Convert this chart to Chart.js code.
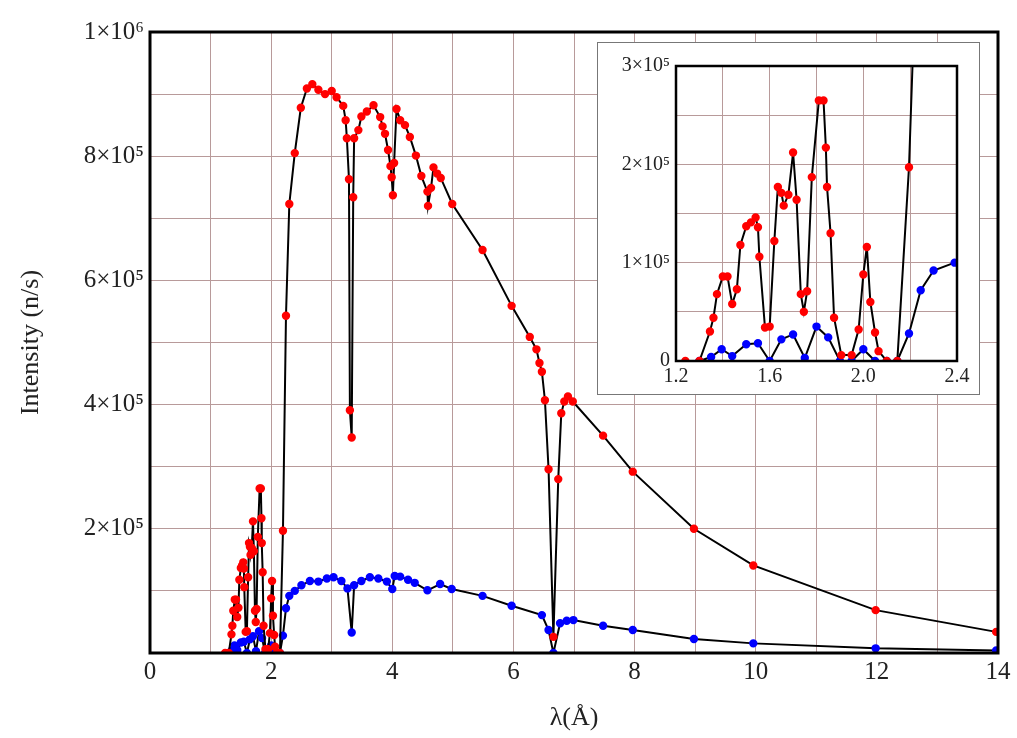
<!DOCTYPE html>
<html><head><meta charset="utf-8">
<script src="https://cdn.jsdelivr.net/npm/chart.js@4.4.0/dist/chart.umd.min.js"></script>
<style>
body{margin:0;background:#fff;}
#wrap{position:relative;width:1017px;height:738px;}
#main{position:absolute;left:0;top:0;}
#insetBox{position:absolute;left:597px;top:42px;width:381px;height:351px;border:1px solid #777;background:#fff;}
#inset{position:absolute;left:0;top:0;}
</style></head><body>
<div id="wrap">
<canvas id="main" width="1017" height="738"></canvas>
<div id="insetBox"><canvas id="inset" width="381" height="351"></canvas></div>
</div>
<script>
const redX=[1.24,1.30,1.345,1.36,1.375,1.40,1.42,1.44,1.46,1.475,1.50,1.52,1.54,1.55,1.556,1.58,1.60,1.62,1.635,1.65,1.66,1.68,1.70,1.715,1.733,1.746,1.76,1.78,1.81,1.83,1.84,1.845,1.86,1.875,1.906,1.95,1.98,2.0,2.015,2.03,2.05,2.065,2.10,2.145,2.195,2.245,2.30,2.39,2.49,2.59,2.68,2.78,2.89,3.0,3.08,3.19,3.23,3.25,3.285,3.30,3.33,3.355,3.37,3.44,3.49,3.58,3.69,3.80,3.84,3.88,3.93,3.97,3.99,4.01,4.03,4.07,4.13,4.21,4.29,4.39,4.48,4.58,4.59,4.64,4.68,4.74,4.80,4.99,5.49,5.97,6.27,6.38,6.43,6.47,6.52,6.58,6.66,6.74,6.79,6.84,6.90,6.98,7.48,7.97,8.98,9.96,11.98,13.97];
const redY=[0,0,30000,44000,68000,86000,86000,58000,73000,118000,137000,141000,146000,136000,106000,34000,35000,122000,177000,171000,158000,169000,212000,164000,68000,50000,71000,187000,265000,265000,217000,177000,130000,44000,6000,6000,32000,88000,116000,60000,29000,10000,0,0,197000,543000,723000,805000,878000,909000,916000,907000,900000,905000,895000,881000,858000,829000,763000,391000,347000,734000,829000,842000,864000,872000,882000,863000,848000,836000,810000,784000,766000,737000,789000,876000,858000,850000,831000,801000,768000,743000,720000,749000,782000,772000,765000,723000,649000,559000,509000,489000,467000,453000,407000,296000,26000,280000,386000,405000,413000,405000,350000,292000,200000,141000,69000,34000];
const blueX=[1.30,1.35,1.395,1.44,1.50,1.55,1.60,1.65,1.70,1.75,1.80,1.85,1.90,1.95,2.0,2.05,2.10,2.145,2.195,2.245,2.30,2.39,2.50,2.64,2.78,2.92,3.03,3.16,3.26,3.33,3.37,3.49,3.63,3.77,3.91,4.0,4.04,4.13,4.26,4.37,4.58,4.79,4.98,5.49,5.97,6.47,6.58,6.66,6.77,6.88,6.99,7.48,7.97,8.98,9.96,11.98,13.97];
const blueY=[0,4000,12000,5000,17000,18000,0,22000,27000,3000,35000,24000,0,0,12000,0,0,0,28000,72000,92000,100000,109000,116000,115000,120000,122000,116000,104000,33000,109000,116000,122000,120000,115000,103000,124000,123000,118000,113000,101000,111000,103000,92000,76000,61000,37000,0,48000,52000,53000,44000,37000,22500,15500,7500,4000];

const sup={'0':'⁰','1':'¹','2':'²','3':'³','4':'⁴','5':'⁵','6':'⁶','7':'⁷','8':'⁸','9':'⁹'};
function sci(v){ if(v===0) return '0'; const e=Math.floor(Math.log10(v)+1e-9); const m=Math.round(v/Math.pow(10,e)); return m+'×10'+String(e).split('').map(c=>sup[c]).join(''); }
const pts=(xs,ys)=>xs.map((x,i)=>({x:x,y:ys[i]}));
const SERIF="'Liberation Serif','DejaVu Serif',serif";
const frame={id:'frame',afterDraw(c){const a=c.chartArea,ctx=c.ctx;ctx.save();ctx.strokeStyle='#000';ctx.lineWidth=c.options.frameW;ctx.strokeRect(a.left,a.top,a.right-a.left,a.bottom-a.top);ctx.restore();}};
function ds(xs,ys,col){return {data:pts(xs,ys),borderColor:'#000',borderWidth:2,pointBackgroundColor:col,pointBorderColor:col,pointRadius:3.2,pointStyle:'circle',tension:0};}
function makeChart(id,o){
  return new Chart(document.getElementById(id),{type:'line',
    data:{datasets:[ds(redX,redY,'#f00'),ds(blueX,blueY,'#00f')]},
    plugins:[frame],
    options:{frameW:o.fw,responsive:false,animation:false,events:[],
      layout:{padding:{top:o.pt,right:o.pr,left:o.pl,bottom:0}},
      plugins:{legend:{display:false},tooltip:{enabled:false}},
      scales:{
        x:{type:'linear',min:o.xmin,max:o.xmax,afterFit(s){s.height=o.xh;},
          grid:{color:'#b89a9a',lineWidth:1,drawTicks:false},border:{display:false},
          ticks:{stepSize:o.xs,autoSkip:false,padding:4,color:'#222',font:{family:SERIF,size:o.fs},
            callback:(v)=>{const k=Math.round(v/o.xs);return (k%o.xl===0)?(o.xd?v.toFixed(1):String(v)):'';}},
          title:{display:!!o.xt,text:o.xt,color:'#222',font:{family:SERIF,size:26},padding:{top:0}}},
        y:{type:'linear',min:0,max:o.ymax,afterFit(s){s.width=o.yw;},
          grid:{color:'#b89a9a',lineWidth:1,drawTicks:false},border:{display:false},
          ticks:{stepSize:o.ys,autoSkip:false,padding:6,color:'#222',font:{family:SERIF,size:o.fs},
            callback:(v)=>{const k=Math.round(v/o.ys);if(v===0&&!o.zero)return '';return (k%2===0)?sci(v):'';}},
          title:{display:!!o.yt,text:o.yt,color:'#222',font:{family:SERIF,size:26},padding:{bottom:2}}}
      }}});
}
makeChart('main',{fw:3,pt:32,pr:19,pl:12,xmin:0,xmax:14,xh:85,xs:1,xl:2,xd:false,xt:'λ(Å)',ymax:1e6,yw:138,ys:1e5,yt:'Intensity (n/s)',fs:25,zero:false});
makeChart('inset',{fw:2.5,pt:23,pr:22,pl:0,xmin:1.2,xmax:2.4,xh:33,xs:0.2,xl:2,xd:true,xt:'',ymax:3e5,yw:78,ys:5e4,yt:'',fs:20,zero:true});
</script>
</body></html>
